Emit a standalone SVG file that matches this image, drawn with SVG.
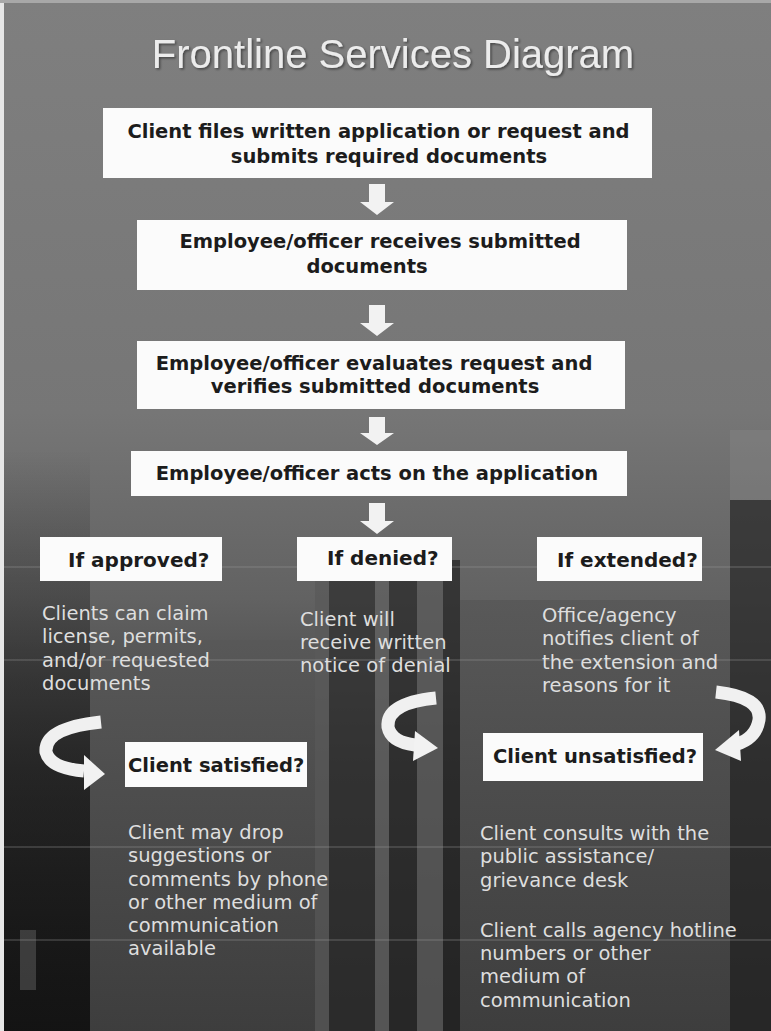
<svg xmlns="http://www.w3.org/2000/svg" width="771" height="1031" viewBox="0 0 771 1031">
<defs>
<linearGradient id="bg" x1="0" y1="0" x2="0" y2="1">
<stop offset="0" stop-color="#7f7f7f"/>
<stop offset="0.4" stop-color="#767676"/>
<stop offset="0.58" stop-color="#626262"/>
<stop offset="0.75" stop-color="#404040"/>
<stop offset="1" stop-color="#282828"/>
</linearGradient>
<linearGradient id="darkL" x1="0" y1="0" x2="0" y2="1">
<stop offset="0" stop-color="#101010" stop-opacity="0"/>
<stop offset="0.4" stop-color="#101010" stop-opacity="0.45"/>
<stop offset="1" stop-color="#101010" stop-opacity="0.85"/>
</linearGradient>
<linearGradient id="panel" x1="0" y1="0" x2="0" y2="1">
<stop offset="0" stop-color="#585858"/>
<stop offset="1" stop-color="#404040"/>
</linearGradient>
<filter id="sh" x="-5%" y="-20%" width="110%" height="140%">
<feDropShadow dx="1.5" dy="1.5" stdDeviation="1" flood-color="#000" flood-opacity="0.45"/>
</filter>
<filter id="soft" x="-20%" y="-20%" width="140%" height="140%">
<feGaussianBlur stdDeviation="0.6"/>
</filter>
</defs>
<style>
.box{fill:#fbfbfb}
.bt{font-family:"DejaVu Sans",Verdana,sans-serif;font-weight:bold;font-size:19.5px;fill:#1c1c1c}
.lt{font-family:"DejaVu Sans",Verdana,sans-serif;font-weight:bold;font-size:20px;fill:#1c1c1c}
.dt{font-family:"DejaVu Sans",Verdana,sans-serif;font-size:19.5px;fill:#dedede}
.arr{fill:#f2f2f2}
.cur{fill:none;stroke:#f0f0f0;stroke-width:13}
.hl{stroke:#9a9a9a;stroke-width:1;opacity:0.5}
</style>

<g id="background">
<rect x="0" y="0" width="771" height="1031" fill="url(#bg)"/>
<rect x="4" y="450" width="86" height="581" fill="url(#darkL)"/>
<rect x="90" y="640" width="225" height="391" fill="url(#panel)" opacity="0.9"/>
<rect x="315" y="560" width="14" height="471" fill="#5a5a5a" opacity="0.8"/>
<rect x="329" y="560" width="46" height="471" fill="#2c2c2c" opacity="0.7"/>
<rect x="375" y="560" width="14" height="471" fill="#606060" opacity="0.8"/>
<rect x="389" y="560" width="28" height="471" fill="#262626" opacity="0.7"/>
<rect x="417" y="560" width="26" height="471" fill="#5a5a5a" opacity="0.8"/>
<rect x="443" y="560" width="17" height="471" fill="#222222" opacity="0.7"/>
<rect x="460" y="600" width="270" height="431" fill="url(#panel)" opacity="0.9"/>
<rect x="730" y="430" width="41" height="70" fill="#8a8a8a" opacity="0.35"/>
<rect x="730" y="500" width="41" height="531" fill="#262626" opacity="0.7"/>
<rect x="20" y="930" width="16" height="60" fill="#555" opacity="0.6"/>
<line class="hl" x1="0" y1="567" x2="771" y2="567"/>
<line class="hl" x1="0" y1="660" x2="771" y2="660"/>
<line class="hl" x1="0" y1="847" x2="771" y2="847" opacity="0.3"/>
<line class="hl" x1="0" y1="940" x2="771" y2="940" opacity="0.3"/>
<rect x="0" y="0" width="4" height="1031" fill="#e6e6e6"/>
<rect x="0" y="0" width="771" height="3" fill="#a8a8a8"/>
</g>

<g id="title">
<text x="393" y="68" text-anchor="middle" font-family="'Liberation Sans',Arial,sans-serif" font-size="40" fill="#ececec" filter="url(#sh)">Frontline Services Diagram</text>
</g>

<g id="connectors">
<path class="arr" filter="url(#soft)" d="M369 184 H385 V202 H394 L377 215 L360 202 H369 Z"/>
<path class="arr" filter="url(#soft)" d="M369 305 H385 V323 H394 L377 336 L360 323 H369 Z"/>
<path class="arr" filter="url(#soft)" d="M369 417 H385 V433 H394 L377 445 L360 433 H369 Z"/>
<path class="arr" filter="url(#soft)" d="M369 503 H385 V521 H394 L377 534 L360 521 H369 Z"/>
<path class="cur" d="M101 722 Q 44 728 46 752 Q 50 768 84 771"/>
<polygon class="arr" points="84,755 105,774 84,790"/>
<path class="cur" d="M436 698 Q 386 703 388 727 Q 391 742 415 745"/>
<polygon class="arr" points="415,731 438,748 413,761"/>
<path class="cur" d="M716 692 Q 762 697 759 720 Q 756 738 737 744"/>
<polygon class="arr" points="739,730 715,750 741,761"/>
</g>

<g id="node-file">
<rect class="box" x="103" y="108" width="549" height="70"/>
<text class="bt" x="378.5" y="138" text-anchor="middle">Client files written application or request and</text>
<text class="bt" x="389" y="163" text-anchor="middle">submits required documents</text>
</g>
<g id="node-receive">
<rect class="box" x="137" y="220" width="490" height="70"/>
<text class="bt" x="380" y="248" text-anchor="middle">Employee/officer receives submitted</text>
<text class="bt" x="367" y="273" text-anchor="middle">documents</text>
</g>
<g id="node-evaluate">
<rect class="box" x="137" y="341" width="488" height="68"/>
<text class="bt" x="374" y="370" text-anchor="middle">Employee/officer evaluates request and</text>
<text class="bt" x="375" y="393" text-anchor="middle">verifies submitted documents</text>
</g>
<g id="node-act">
<rect class="box" x="131" y="451" width="496" height="45"/>
<text class="bt" x="377" y="480" text-anchor="middle">Employee/officer acts on the application</text>
</g>

<g id="node-approved">
<rect class="box" x="40" y="537" width="182" height="44"/>
<text class="lt" x="68" y="567">If approved?</text>
</g>
<g id="node-denied">
<rect class="box" x="297" y="537" width="155" height="44"/>
<text class="lt" x="327" y="565">If denied?</text>
</g>
<g id="node-extended">
<rect class="box" x="537" y="537" width="165" height="44"/>
<text class="lt" x="557" y="567">If extended?</text>
</g>

<g id="desc-approved">
<text class="dt" x="42" y="620">Clients can claim</text>
<text class="dt" x="42" y="643">license, permits,</text>
<text class="dt" x="42" y="667">and/or requested</text>
<text class="dt" x="42" y="690">documents</text>
</g>
<g id="desc-denied">
<text class="dt" x="300" y="626">Client will</text>
<text class="dt" x="300" y="649">receive written</text>
<text class="dt" x="300" y="672">notice of denial</text>
</g>
<g id="desc-extended">
<text class="dt" x="542" y="622">Office/agency</text>
<text class="dt" x="542" y="645">notifies client of</text>
<text class="dt" x="542" y="669">the extension and</text>
<text class="dt" x="542" y="692">reasons for it</text>
</g>

<g id="node-satisfied">
<rect class="box" x="125" y="742" width="182" height="45"/>
<text class="bt" x="128" y="772">Client satisfied?</text>
</g>
<g id="node-unsatisfied">
<rect class="box" x="483" y="733" width="220" height="48"/>
<text class="bt" x="493" y="763">Client unsatisfied?</text>
</g>

<g id="desc-satisfied">
<text class="dt" x="128" y="839">Client may drop</text>
<text class="dt" x="128" y="862">suggestions or</text>
<text class="dt" x="128" y="886">comments by phone</text>
<text class="dt" x="128" y="909">or other medium of</text>
<text class="dt" x="128" y="932">communication</text>
<text class="dt" x="128" y="955">available</text>
</g>
<g id="desc-unsatisfied">
<text class="dt" x="480" y="840">Client consults with the</text>
<text class="dt" x="480" y="863">public assistance/</text>
<text class="dt" x="480" y="887">grievance desk</text>
<text class="dt" x="480" y="937">Client calls agency hotline</text>
<text class="dt" x="480" y="960">numbers or other</text>
<text class="dt" x="480" y="983">medium of</text>
<text class="dt" x="480" y="1007">communication</text>
</g>
</svg>
